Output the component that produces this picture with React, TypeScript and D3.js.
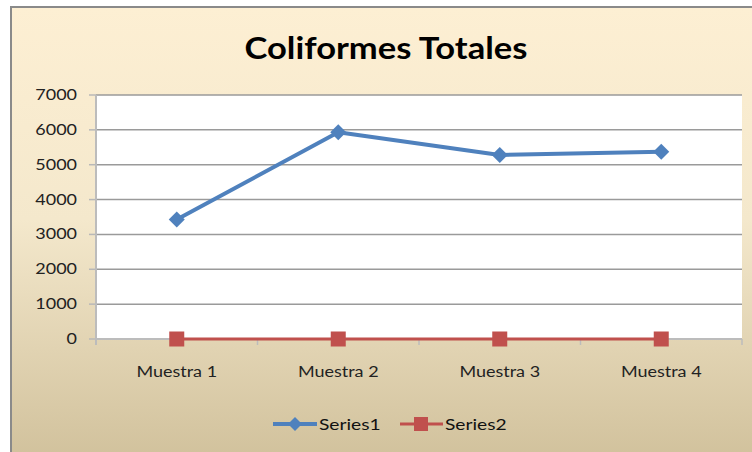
import React from "react";
import * as d3 from "d3";

const categories = ["Muestra 1", "Muestra 2", "Muestra 3", "Muestra 4"];
const series1 = [3430, 5930, 5280, 5370];
const series2 = [0, 0, 0, 0];
const seriesNames = ["Series1", "Series2"];
const yTicks = [0, 1000, 2000, 3000, 4000, 5000, 6000, 7000];
const title = "Coliformes Totales";

const W = 752;
const H = 452;
const plot = { left: 96, top: 95, right: 742, bottom: 339 };
const FONT = "Lato, 'Open Sans', sans-serif";
const BLUE = "#4f81bd";
const RED = "#c0504d";

function Txt(props: {
  x: number;
  y: number;
  anchor?: "start" | "middle" | "end";
  size: number;
  fill?: string;
  children: React.ReactNode;
}) {
  return (
    <text
      transform={`translate(${props.x},${props.y}) scale(1.2,1)`}
      textAnchor={props.anchor || "start"}
      fontSize={props.size}
      fill={props.fill || "#222"}
    >
      {props.children}
    </text>
  );
}

export default function App() {
  const x = d3
    .scaleBand<string>()
    .domain(categories)
    .range([plot.left, plot.right]);
  const y = d3.scaleLinear().domain([0, 7000]).range([plot.bottom, plot.top]);
  const cx = (c: string) => (x(c) as number) + x.bandwidth() / 2;
  const line = d3
    .line<number>()
    .x((_, i) => cx(categories[i]))
    .y((d) => y(d));

  const diamond = (px: number, py: number, r: number) =>
    `M${px},${py - r}L${px + r},${py}L${px},${py + r}L${px - r},${py}Z`;

  const legendY = 424;

  return (
    <svg
      width={W}
      height={H}
      style={{ position: "absolute", left: 0, top: 0 }}
      fontFamily={FONT}
    >
      <defs>
        <linearGradient id="bg" x1="0" y1="0" x2="0" y2="1">
          <stop offset="0" stopColor="#fdefd3" />
          <stop offset="0.45" stopColor="#f4e8cc" />
          <stop offset="1" stopColor="#cebe98" />
        </linearGradient>
      </defs>
      <rect x={0} y={0} width={W} height={H} fill="#ffffff" />
      <rect
        x={11}
        y={7}
        width={W + 20}
        height={H + 20}
        fill="url(#bg)"
        stroke="#8a8a8a"
        strokeWidth={2}
      />
      <text
        x={386}
        y={59}
        textAnchor="middle"
        fontSize={31}
        fontWeight="bold"
        fill="#000"
        textLength={283}
        lengthAdjust="spacingAndGlyphs"
      >
        {title}
      </text>

      <rect
        x={plot.left}
        y={plot.top}
        width={plot.right - plot.left}
        height={plot.bottom - plot.top}
        fill="#ffffff"
      />
      {yTicks.map((t) => (
        <g key={t}>
          {t > 0 && (
            <line
              x1={plot.left}
              x2={plot.right}
              y1={y(t)}
              y2={y(t)}
              stroke="#9a9a9a"
              strokeWidth={1.5}
            />
          )}
          <line
            x1={89}
            x2={plot.left}
            y1={y(t)}
            y2={y(t)}
            stroke="#b8b8b8"
            strokeWidth={1.5}
          />
          <Txt x={77} y={y(t) + 5} anchor="end" size={15}>
            {t}
          </Txt>
        </g>
      ))}
      <line
        x1={plot.left}
        x2={plot.left}
        y1={plot.top}
        y2={plot.bottom + 6}
        stroke="#bcbcbc"
        strokeWidth={2}
      />
      <line
        x1={plot.left}
        x2={plot.right}
        y1={plot.bottom}
        y2={plot.bottom}
        stroke="#bcbcbc"
        strokeWidth={2}
      />
      {categories.map((c) => (
        <g key={c}>
          <line
            x1={(x(c) as number) + x.bandwidth()}
            x2={(x(c) as number) + x.bandwidth()}
            y1={plot.bottom}
            y2={plot.bottom + 6}
            stroke="#bcbcbc"
            strokeWidth={1.5}
          />
          <Txt x={cx(c)} y={377} anchor="middle" size={15}>
            {c}
          </Txt>
        </g>
      ))}

      <path
        d={line(series2) || ""}
        fill="none"
        stroke={RED}
        strokeWidth={3}
      />
      {series2.map((v, i) => (
        <rect
          key={i}
          x={cx(categories[i]) - 7.5}
          y={y(v) - 7.5}
          width={15}
          height={15}
          fill={RED}
        />
      ))}
      <path
        d={line(series1) || ""}
        fill="none"
        stroke={BLUE}
        strokeWidth={4}
        strokeLinejoin="round"
      />
      {series1.map((v, i) => (
        <path key={i} d={diamond(cx(categories[i]), y(v), 8)} fill={BLUE} />
      ))}

      <g>
        <line
          x1={273}
          x2={317}
          y1={legendY}
          y2={legendY}
          stroke={BLUE}
          strokeWidth={4}
        />
        <path d={diamond(295, legendY, 7)} fill={BLUE} />
        <Txt x={319} y={legendY + 6} size={16} fill="#111">
          {seriesNames[0]}
        </Txt>
        <line
          x1={400}
          x2={443}
          y1={legendY}
          y2={legendY}
          stroke={RED}
          strokeWidth={3}
        />
        <rect x={414} y={legendY - 7} width={14} height={14} fill={RED} />
        <Txt x={445} y={legendY + 6} size={16} fill="#111">
          {seriesNames[1]}
        </Txt>
      </g>
    </svg>
  );
}
